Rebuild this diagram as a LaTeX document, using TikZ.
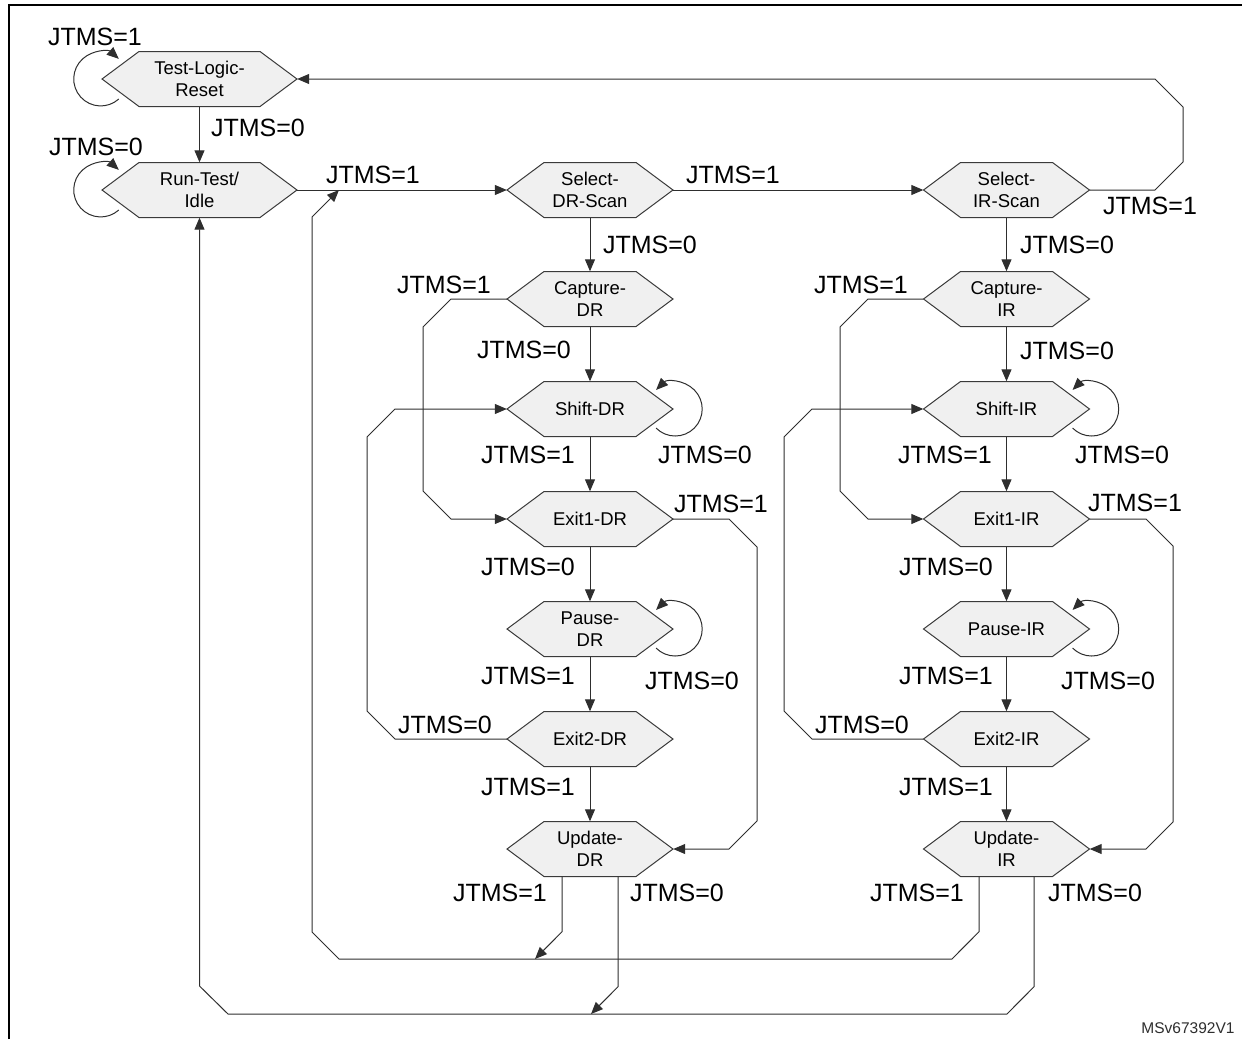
\documentclass[tikz,border=0pt]{standalone}
\usepackage{fontspec}
\setmainfont{Liberation Sans}
\usetikzlibrary{arrows.meta,calc}
\definecolor{hexfill}{HTML}{F0F0F0}
\definecolor{hexline}{HTML}{3A3A3A}
\definecolor{linec}{HTML}{2E2E2E}
\tikzset{
  hexshape/.style={fill=hexfill, draw=hexline, line width=1pt, line join=miter},
  statetext/.style={rectangle, draw=none, inner sep=0pt, minimum height=55pt, align=center,
    font=\fontsize{18.5}{22}\selectfont},
  lbl/.style={inner sep=0pt, font=\fontsize{25}{30}\selectfont},
  conn/.style={draw=linec, line width=1pt, -{Triangle[length=12pt,width=10pt]}},
}
\newcommand\hexstate[5]{%
  \filldraw[hexshape] (#2-#4/2,#3) -- (#2-#4/2+37,#3-27.5) -- (#2+#4/2-37,#3-27.5)
    -- (#2+#4/2,#3) -- (#2+#4/2-37,#3+27.5) -- (#2-#4/2+37,#3+27.5) -- cycle;
  \node[statetext, minimum width=#4pt] (#1) at (#2,#3) {#5};
}
\begin{document}
\begin{tikzpicture}[x=1pt,y=-1pt]
\useasboundingbox (0,0) rectangle (1242,1039);
% frame
\draw[line width=2pt] (8.5,1039) -- (8.5,4.5) -- (1242,4.5);

% states
\hexstate{tlr}{199.5}{79}{195}{Test-Logic-\\Reset}
\hexstate{rti}{199.5}{190}{195}{Run-Test/\\Idle}
\hexstate{sdr}{590}{190}{166}{Select-\\DR-Scan}
\hexstate{cdr}{590}{299}{166}{Capture-\\DR}
\hexstate{shdr}{590}{409}{166}{Shift-DR}
\hexstate{e1dr}{590}{519}{166}{Exit1-DR}
\hexstate{pdr}{590}{629}{166}{Pause-\\DR}
\hexstate{e2dr}{590}{739}{166}{Exit2-DR}
\hexstate{udr}{590}{849}{166}{Update-\\DR}
\hexstate{sir}{1006.5}{190}{166}{Select-\\IR-Scan}
\hexstate{cir}{1006.5}{299}{166}{Capture-\\IR}
\hexstate{shir}{1006.5}{409}{166}{Shift-IR}
\hexstate{e1ir}{1006.5}{519}{166}{Exit1-IR}
\hexstate{pir}{1006.5}{629}{166}{Pause-IR}
\hexstate{e2ir}{1006.5}{739}{166}{Exit2-IR}
\hexstate{uir}{1006.5}{849}{166}{Update-\\IR}

% junction points on lines
\coordinate (jrun) at (339,190);
\coordinate (jdr1) at (535,959);
\coordinate (jdr0) at (591,1014);

% self loops
\draw[conn] ($(tlr.west)+(17,20)$) arc[start angle=48, end angle=312, radius=27];
\draw[conn] ($(rti.west)+(17,20)$) arc[start angle=48, end angle=312, radius=27];
\foreach \n in {shdr,pdr,shir,pir}
  \draw[conn] ($(\n.east)+(-17.1,19.1)$) arc[start angle=135, end angle=-135, radius=27];

% main flow
\draw[conn] (tlr.south) -- (rti.north);
\draw[conn] (rti.east) -- (sdr.west);
\draw[conn] (sdr.east) -- (sir.west);
\draw[conn] (sir.east) -- (1155,190) -- (1183,162) -- (1183,107) -- (1155,79) -- (tlr.east);

\foreach \c in {dr,ir}{
  \draw[conn] (s\c.south) -- (c\c.north);
  \draw[conn] (c\c.south) -- (sh\c.north);
  \draw[conn] (sh\c.south) -- (e1\c.north);
  \draw[conn] (e1\c.south) -- (p\c.north);
  \draw[conn] (p\c.south) -- (e2\c.north);
  \draw[conn] (e2\c.south) -- (u\c.north);
}

% DR column side paths
\draw[conn] (cdr.west) -- (451,299) -- (423,327) -- (423,491) -- (451,519) -- (e1dr.west);
\draw[conn] (e1dr.east) -- (729,519) -- (757,547) -- (757,821) -- (729,849) -- (udr.east);
\draw[conn] (e2dr.west) -- (395,739) -- (367,711) -- (367,437) -- (395,409) -- (shdr.west);
\draw[conn] ($(udr.south)+(-28,0)$) -- ++(0,55) -- (jdr1);
\draw[conn] ($(udr.south)+(28,0)$) -- ++(0,110) -- (jdr0);

% IR column side paths
\draw[conn] (cir.west) -- (868,299) -- (840,327) -- (840,491) -- (868,519) -- (e1ir.west);
\draw[conn] (e1ir.east) -- (1146,519) -- (1173,546) -- (1173,822) -- (1146,849) -- (uir.east);
\draw[conn] (e2ir.west) -- (812,739) -- (784,711) -- (784,437) -- (812,409) -- (shir.west);
\draw[conn] ($(uir.south)+(-27.5,0)$) -- ++(0,55) -- (952,959) -- (339,959) -- (312,932) -- (312,217) -- (jrun);
\draw[conn] ($(uir.south)+(27.5,0)$) -- ++(0,110) -- (1007,1014) -- (228,1014) -- (199.5,986) -- (rti.south);

% labels
\node[lbl] (l1) at (95,37) {JTMS=1};
\node[lbl] (l2) at (258,128) {JTMS=0};
\node[lbl] (l3) at (96,147) {JTMS=0};
\node[lbl] (l4) at (373,175) {JTMS=1};
\node[lbl] (l5) at (733,175) {JTMS=1};
\node[lbl] (l6) at (1150,206) {JTMS=1};
\node[lbl] (l7) at (650,245) {JTMS=0};
\node[lbl] (l8) at (1067,245) {JTMS=0};
\node[lbl] (l9) at (444,285) {JTMS=1};
\node[lbl] (l10) at (861,285) {JTMS=1};
\node[lbl] (l11) at (524,350) {JTMS=0};
\node[lbl] (l12) at (1067,351) {JTMS=0};
\node[lbl] (l13) at (528,455) {JTMS=1};
\node[lbl] (l14) at (945,455) {JTMS=1};
\node[lbl] (l15) at (705,455) {JTMS=0};
\node[lbl] (l16) at (1122,455) {JTMS=0};
\node[lbl] (l17) at (721,504) {JTMS=1};
\node[lbl] (l18) at (1135,503) {JTMS=1};
\node[lbl] (l19) at (528,567) {JTMS=0};
\node[lbl] (l20) at (946,567) {JTMS=0};
\node[lbl] (l21) at (692,681) {JTMS=0};
\node[lbl] (l22) at (1108,681) {JTMS=0};
\node[lbl] (l23) at (528,676) {JTMS=1};
\node[lbl] (l24) at (946,676) {JTMS=1};
\node[lbl] (l25) at (445,725) {JTMS=0};
\node[lbl] (l26) at (862,725) {JTMS=0};
\node[lbl] (l27) at (528,787) {JTMS=1};
\node[lbl] (l28) at (946,787) {JTMS=1};
\node[lbl] (l29) at (500,893) {JTMS=1};
\node[lbl] (l30) at (917,893) {JTMS=1};
\node[lbl] (l31) at (677,893) {JTMS=0};
\node[lbl] (l32) at (1095,893) {JTMS=0};
\node[inner sep=0pt, font=\fontsize{15.5}{18}\selectfont, text=linec] (ms) at (1188,1028) {MSv67392V1};
\end{tikzpicture}
\end{document}
